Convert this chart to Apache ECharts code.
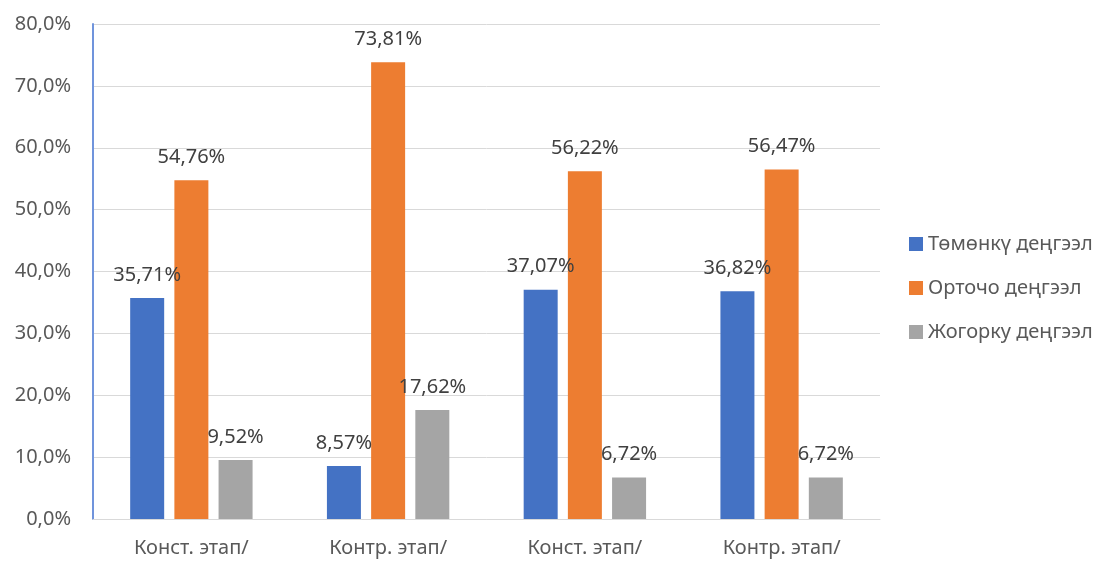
<!DOCTYPE html>
<html>
<head>
<meta charset="utf-8">
<script src="https://cdn.jsdelivr.net/npm/echarts@6/dist/echarts.min.js"></script>
<style>
html,body{margin:0;padding:0;background:#fff;}
#c{width:1109px;height:563px;}
</style>
</head>
<body>
<div id="c"></div>
<script>
var categories = ['Конст. этап/', 'Контр. этап/', 'Конст. этап/', 'Контр. этап/'];
var seriesNames = ['Төмөнкү деңгээл', 'Орточо деңгээл', 'Жогорку деңгээл'];
var lowValues = [35.71, 8.57, 37.07, 36.82];
var midValues = [54.76, 73.81, 56.22, 56.47];
var highValues = [9.52, 17.62, 6.72, 6.72];
var colors = ['#4472C4', '#ED7D31', '#A5A5A5'];

var font = 'Noto Sans';
function pct(v){ return v.toFixed(2).replace('.', ',') + '%'; }

var chart = echarts.init(document.getElementById('c'));
var allData = [lowValues, midValues, highValues];
var series = seriesNames.map(function(n, i){
  return {
    name: n,
    type: 'bar',
    data: allData[i],
    barWidth: 34,
    barGap: '30%',
    itemStyle: {color: colors[i]},
    label: {
      show: true,
      position: 'top',
      distance: 13,
      color: '#404040',
      fontFamily: font,
      fontSize: 20,
      formatter: function(p){ return pct(p.value); }
    }
  };
});

chart.setOption({
  animation: false,
  textStyle: {fontFamily: font},
  grid: {left: 93, right: 229, top: 24, bottom: 44},
  legend: {
    orient: 'vertical',
    left: 904,
    top: 229,
    icon: 'rect',
    itemWidth: 14,
    itemHeight: 14,
    itemGap: 24,
    textStyle: {color: '#595959', fontSize: 20, fontFamily: font},
    data: seriesNames
  },
  xAxis: {
    type: 'category',
    data: categories,
    axisLine: {lineStyle: {color: '#d9d9d9'}},
    axisTick: {show: false},
    axisLabel: {color: '#595959', fontSize: 20, fontFamily: font, margin: 19}
  },
  yAxis: {
    type: 'value',
    min: 0,
    max: 80,
    interval: 10,
    axisLine: {show: true, lineStyle: {color: '#7094dc', width: 2}},
    axisTick: {show: false},
    splitLine: {lineStyle: {color: '#d9d9d9'}},
    axisLabel: {
      color: '#595959', fontSize: 20, fontFamily: font, margin: 22,
      formatter: function(v){ return v.toFixed(1).replace('.', ',') + '%'; }
    }
  },
  series: series
});
</script>
</body>
</html>
